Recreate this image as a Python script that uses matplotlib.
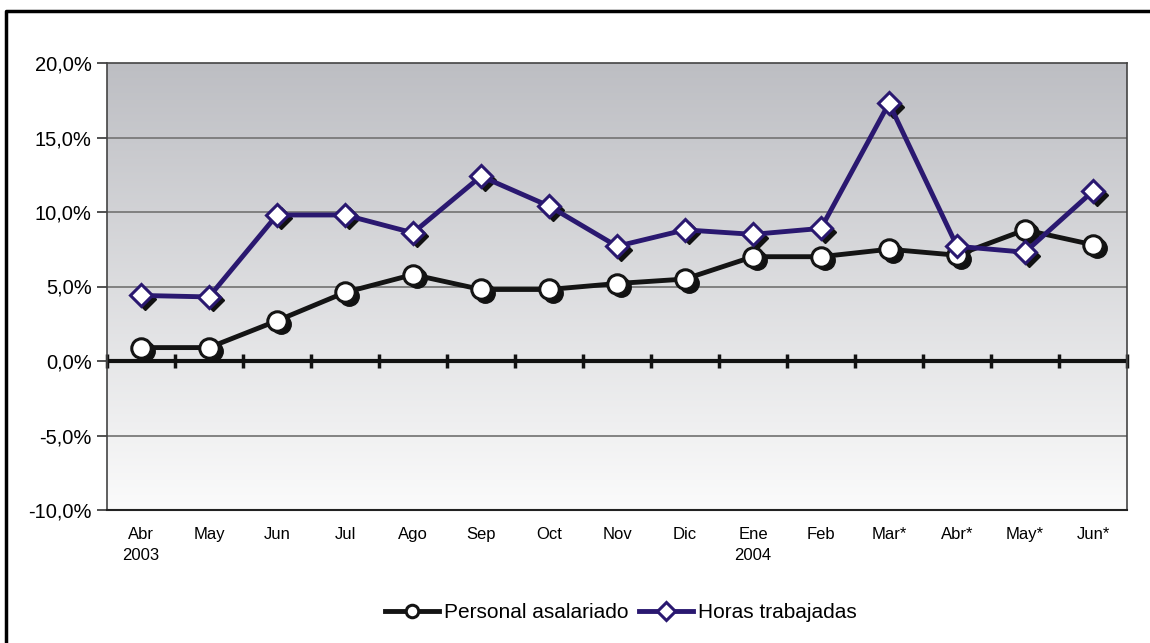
import numpy as np
import matplotlib
matplotlib.use('Agg')
from matplotlib import pyplot as plt
from matplotlib import transforms
from matplotlib.lines import Line2D
from matplotlib.ticker import FuncFormatter

plt.rcParams['font.family'] = ['Liberation Sans', 'DejaVu Sans']

months = ['Abr\n2003', 'May', 'Jun', 'Jul', 'Ago', 'Sep', 'Oct', 'Nov', 'Dic',
          'Ene\n2004', 'Feb', 'Mar*', 'Abr*', 'May*', 'Jun*']
personal = [0.9, 0.9, 2.7, 4.6, 5.8, 4.8, 4.8, 5.2, 5.5, 7.0, 7.0, 7.5, 7.1, 8.8, 7.8]
horas = [4.4, 4.3, 9.8, 9.8, 8.6, 12.4, 10.4, 7.7, 8.8, 8.5, 8.9, 17.3, 7.7, 7.3, 11.4]

C_PERS = '#141414'
C_HORAS = '#2a1870'


def main():
    fig = plt.figure(figsize=(11.5, 6.43), dpi=100)
    ax = fig.add_axes([107 / 1150, 1 - 510 / 643, 1020 / 1150, 447 / 643])
    x = np.arange(len(months))
    ax.set_xlim(-0.5, len(months) - 0.5)

    # fondo degradado (oscuro arriba, claro abajo)
    grad = np.linspace(0, 1, 256).reshape(-1, 1)
    cmap = matplotlib.colors.LinearSegmentedColormap.from_list('bg', ['#bdbec3', '#fbfbfb'])
    ax.imshow(grad, aspect='auto', cmap=cmap, origin='upper',
              extent=(-0.5, len(months) - 0.5, -10, 20), zorder=0, interpolation='bilinear')
    ax.set_ylim(-10, 20)

    for v in [-5, 5, 10, 15]:
        ax.axhline(v, color='#7a7a7a', lw=1.3, zorder=1)
    ax.axhline(0, color='#111111', lw=3, zorder=2)

    # sombras de los marcadores
    shadow = transforms.offset_copy(ax.transData, fig=fig, x=3.5, y=-3.5, units='dots')
    ax.plot(x, personal, 'o', ms=14, color='#111111', mec='#111111', transform=shadow, zorder=3)
    ax.plot(x, horas, 'D', ms=11, color='#111111', mec='#111111', transform=shadow, zorder=3)

    ax.plot(x, personal, '-o', color=C_PERS, lw=3.5, ms=14, mfc='white', mec=C_PERS,
            mew=2.2, zorder=4, label='Personal asalariado')
    ax.plot(x, horas, '-D', color=C_HORAS, lw=3.5, ms=11, mfc='white', mec=C_HORAS,
            mew=2.2, zorder=5, label='Horas trabajadas')

    ax.set_yticks([-10, -5, 0, 5, 10, 15, 20])
    ax.yaxis.set_major_formatter(FuncFormatter(lambda v, p: ('%.1f%%' % v).replace('.', ',')))
    ax.tick_params(axis='y', labelsize=14.5, length=7, width=1.2, color='#333333', pad=4)
    ax.set_xticks(x)
    ax.set_xticklabels(months, fontsize=12, linespacing=1.5)
    ax.tick_params(axis='x', length=0, pad=12)

    for s in ['top', 'left', 'right']:
        ax.spines[s].set_color('#444444')
        ax.spines[s].set_linewidth(1.2)
    ax.spines['bottom'].set_color('#222222')
    ax.spines['bottom'].set_linewidth(1.5)

    # marcas del eje en 0
    sec = ax.secondary_xaxis(1 / 3)
    sec.set_xticks(np.arange(-0.5, len(months)))
    sec.set_xticklabels([])
    sec.tick_params(axis='x', direction='inout', length=10, width=2.5, color='#111111')
    sec.spines['bottom'].set_visible(False)

    leg = ax.legend(loc='center', bbox_to_anchor=(621 / 1150, 1 - 613 / 643),
                    bbox_transform=fig.transFigure, ncol=2, frameon=False, fontsize=15,
                    handlelength=2.6, columnspacing=0.5, handletextpad=0.25)
    for h in leg.legend_handles:
        h.set_markersize(9)

    # marco exterior
    fx = 6 / 1150
    fy = 1 - 11 / 643
    fig.add_artist(Line2D([fx, fx, 1], [0, fy, fy], transform=fig.transFigure,
                          color='black', lw=2.5))

    fig.savefig('out.png', dpi=100)


if __name__ == '__main__':
    main()
